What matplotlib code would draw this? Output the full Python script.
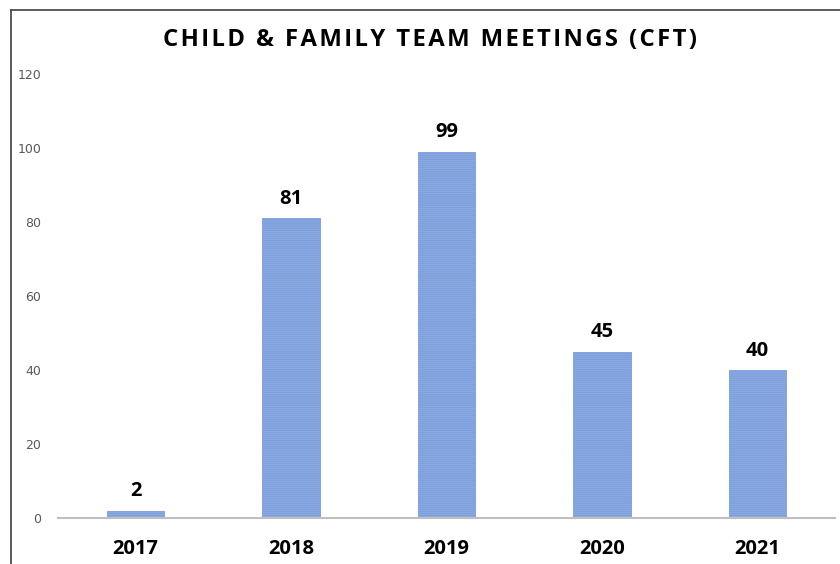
import matplotlib
matplotlib.use('Agg')
import matplotlib.pyplot as plt
from matplotlib.lines import Line2D

years = ['2017', '2018', '2019', '2020', '2021']
meetings = [2, 81, 99, 45, 40]
title = 'CHILD & FAMILY TEAM MEETINGS (CFT)'

plt.rcParams['hatch.color'] = '#4472c4'
plt.rcParams['hatch.linewidth'] = 1.1

fig = plt.figure(figsize=(8.4, 5.64), dpi=100)
ax = fig.add_axes([58/840, 1 - 518/564, 777/840, (518 - 74)/564])

x = range(len(years))
ax.bar(x, meetings, width=0.37, color='#97b2e6', edgecolor='#7d9fdc',
       linewidth=0.6, hatch='--------')
for i, v in enumerate(meetings):
    ax.text(i, v + 2.5, str(v), ha='center', va='bottom', fontsize=14.5,
            fontweight='bold', family='Open Sans', color='black')

ax.set_xlim(-0.5, 4.5)
ax.set_ylim(0, 120)
ax.set_yticks(range(0, 121, 20))
ax.set_xticks(list(x))
ax.set_xticklabels(years, fontsize=14.5, fontweight='bold', family='Open Sans')
ax.tick_params(axis='x', length=0, pad=15)
ax.tick_params(axis='y', length=0, labelsize=9, labelcolor='#595959', pad=12)
for s in ['top', 'right', 'left']:
    ax.spines[s].set_visible(False)
ax.spines['bottom'].set_color('#bfbfbf')
ax.spines['bottom'].set_linewidth(1.5)

# spaced-out title
fig.text(430/840, 1 - 40/564, '\u200a'.join(title), ha='center',
         va='center', fontsize=17.2, fontweight='bold',
         family=['Open Sans', 'DejaVu Sans'])

# outer chart border (left and top only visible)
fig.add_artist(Line2D([11/840, 11/840], [0, 1 - 10/564], color='#404040', lw=1.2))
fig.add_artist(Line2D([11/840, 1], [1 - 10/564, 1 - 10/564], color='#404040', lw=1.2))

fig.savefig('out.png', dpi=100)
